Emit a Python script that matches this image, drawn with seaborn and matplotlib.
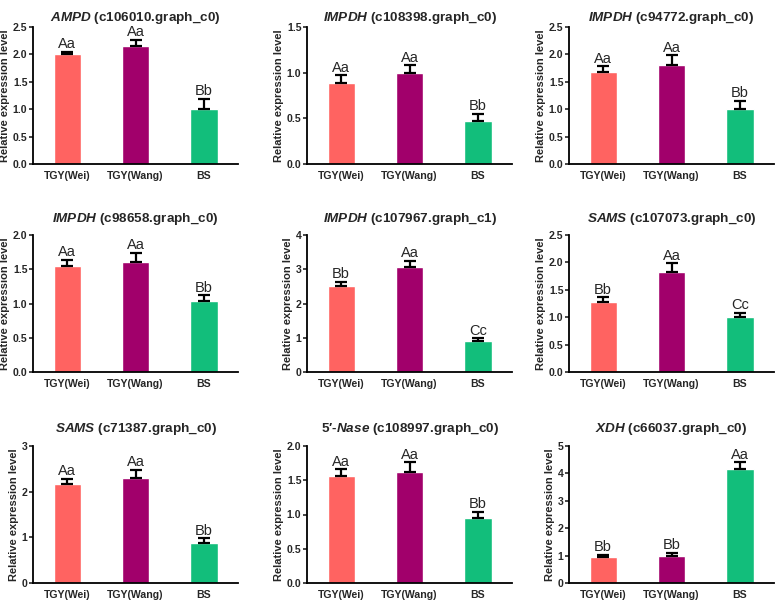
import numpy as np
import pandas as pd
import matplotlib
matplotlib.use("Agg")
import matplotlib.pyplot as plt
import seaborn as sns

sns.set_style("ticks")
plt.rcParams['font.family'] = ['Liberation Sans', 'DejaVu Sans']
plt.rcParams['mathtext.fontset'] = 'custom'
plt.rcParams['mathtext.it'] = 'Liberation Sans:italic:bold'
plt.rcParams['mathtext.rm'] = 'Liberation Sans:bold'
plt.rcParams['mathtext.bf'] = 'Liberation Sans:bold'

# groups shown on every panel
groups = ["TGY(Wei)", "TGY(Wang)", "BS"]
colors = ["#FF6361", "#A1006B", "#12BE7B"]

# panel titles (gene in italics, id in regular)
genes = ["AMPD", "IMPDH", "IMPDH", "IMPDH", "IMPDH", "SAMS", "SAMS", "5\u2032-Nase", "XDH"]
ids = ["(c106010.graph_c0)", "(c108398.graph_c0)", "(c94772.graph_c0)",
       "(c98658.graph_c0)", "(c107967.graph_c1)", "(c107073.graph_c0)",
       "(c71387.graph_c0)", "(c108997.graph_c0)", "(c66037.graph_c0)"]

# mean values per panel
means = [
    [2.01, 2.15, 1.00],
    [0.89, 1.00, 0.47],
    [1.68, 1.80, 1.00],
    [1.55, 1.61, 1.04],
    [2.50, 3.07, 0.90],
    [1.28, 1.83, 1.00],
    [2.16, 2.31, 0.88],
    [1.56, 1.62, 0.95],
    [0.96, 1.00, 4.15],
]
# error (upper only)
errors = [
    [0.04, 0.12, 0.19],
    [0.08, 0.08, 0.08],
    [0.10, 0.18, 0.15],
    [0.09, 0.13, 0.08],
    [0.13, 0.18, 0.08],
    [0.08, 0.15, 0.08],
    [0.12, 0.17, 0.10],
    [0.10, 0.14, 0.09],
    [0.07, 0.10, 0.25],
]
# significance letters
letters = [
    ["Aa", "Aa", "Bb"],
    ["Aa", "Aa", "Bb"],
    ["Aa", "Aa", "Bb"],
    ["Aa", "Aa", "Bb"],
    ["Bb", "Aa", "Cc"],
    ["Bb", "Aa", "Cc"],
    ["Aa", "Aa", "Bb"],
    ["Aa", "Aa", "Bb"],
    ["Bb", "Bb", "Aa"],
]
ymax = [2.5, 1.5, 2.5, 2.0, 4, 2.5, 3, 2.0, 5]
ystep = [0.5, 0.5, 0.5, 0.5, 1, 0.5, 1, 0.5, 1]

W, H = 778, 600
fig = plt.figure(figsize=(W / 100, H / 100), dpi=100)

col_left = [33, 307, 569]
row_top = [27, 235, 446]
title_pad = [4, 9, 10]
ax_w, ax_h = 205, 137

for i in range(9):
    r, c = divmod(i, 3)
    ax = fig.add_axes([col_left[c] / W, 1 - (row_top[r] + ax_h) / H, ax_w / W, ax_h / H])
    df = pd.DataFrame({"group": groups, "value": means[i]})
    sns.barplot(data=df, x="group", y="value", hue="group", palette=colors,
                order=groups, width=0.4, errorbar=None, legend=False,
                saturation=1, ax=ax)
    ax.errorbar(range(3), means[i], yerr=[[0, 0, 0], errors[i]], fmt="none",
                ecolor="black", elinewidth=1.6, capsize=4, capthick=1.6)
    for j in range(3):
        ax.annotate(letters[i][j], (j, means[i][j] + errors[i][j]),
                    xytext=(0, 0.5), textcoords="offset points",
                    ha="center", va="bottom", fontsize=10.5)
    ax.set_xlim(-0.5, 2.5)
    ax.set_ylim(0, ymax[i])
    ax.set_yticks(np.arange(0, ymax[i] + 1e-9, ystep[i]))
    if ystep[i] < 1:
        ax.set_yticklabels([f"{v:.1f}" for v in ax.get_yticks()])
    else:
        ax.set_yticklabels([f"{int(v)}" for v in ax.get_yticks()])
    ax.set_xlabel("")
    ax.set_ylabel("Relative expression level", fontsize=8, fontweight="bold", labelpad=2)
    ax.tick_params(axis="x", length=0, labelsize=7.6, pad=5)
    ax.tick_params(axis="y", length=3, width=1.2, labelsize=7.6, pad=1)
    for lab in ax.get_xticklabels() + ax.get_yticklabels():
        lab.set_fontweight("bold")
    sns.despine(ax=ax)
    for s in ["left", "bottom"]:
        ax.spines[s].set_linewidth(1.3)
        ax.spines[s].set_color("black")
    gene = genes[i].replace("-", "\u2010")
    ax.set_title(r"$\it{" + gene + "}$" + " " + ids[i],
                 fontsize=9.7, fontweight="bold", pad=title_pad[r])

fig.savefig("out.png", dpi=100)
